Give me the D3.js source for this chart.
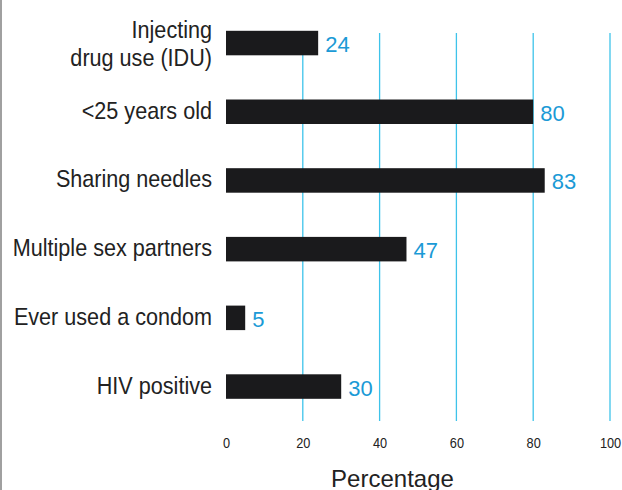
<!DOCTYPE html>
<html><head><meta charset="utf-8">
<script src="https://cdn.jsdelivr.net/npm/d3@7"></script>
<style>
html,body{margin:0;padding:0;background:#fff;}
svg{display:block;}
</style></head>
<body>
<script>
const categories = [["Injecting","drug use (IDU)"],["<25 years old"],["Sharing needles"],["Multiple sex partners"],["Ever used a condom"],["HIV positive"]];
const values = [24, 80, 83, 47, 5, 30];
const ticks = [0, 20, 40, 60, 80, 100];
const gridTicks = [20, 40, 60, 80, 100];
const axisTitle = "Percentage";

const W = 622, H = 490;
const font = "'Liberation Sans', Arial, sans-serif";
const svg = d3.select("body").append("svg").attr("width", W).attr("height", H);

// left border
svg.append("rect").attr("x",0).attr("y",0).attr("width",2).attr("height",H).attr("fill","#a0a0a0");

const x = d3.scaleLinear().domain([0,100]).range([226,610]);
const y = d3.scaleBand().domain(d3.range(categories.length)).range([8.7, 420.9]).paddingInner(0.35).paddingOuter(0.175);

// grid lines
svg.append("g").selectAll("line").data(gridTicks).join("line")
  .attr("x1", d=>x(d)).attr("x2", d=>x(d)).attr("y1", 33).attr("y2", 421)
  .attr("stroke", "#3ec3ea").attr("stroke-width", 1.3);

// bars
const bh = 24.5;
svg.append("g").selectAll("rect").data(values).join("rect")
  .attr("x", x(0)).attr("y", (d,i)=> y(i) + y.bandwidth()/2 - bh/2)
  .attr("width", d=> x(d)-x(0)).attr("height", bh).attr("fill", "#1a1a1c");

// value labels
svg.append("g").selectAll("text").data(values).join("text")
  .attr("x", d=>x(d)+7).attr("y", (d,i)=> y(i)+y.bandwidth()/2 + 9)
  .attr("font-family",font).attr("font-size", 22)
  .attr("fill","#1b9ad6").text(d=>d);

// category labels (condensed look via horizontal scale)
const cl = svg.append("g");
categories.forEach((lines,i)=>{
  const c = y(i)+y.bandwidth()/2;
  const t = cl.append("text").attr("text-anchor","end").attr("font-family",font)
    .attr("font-size",24).attr("fill","#222")
    .attr("transform", `translate(212,0) scale(0.9,1)`);
  if(lines.length===1){
    t.append("tspan").attr("x",0).attr("y",c+7).text(lines[0]);
  } else {
    t.append("tspan").attr("x",0).attr("y",c-5).text(lines[0]);
    t.append("tspan").attr("x",0).attr("y",c+23).text(lines[1]);
  }
});

// x axis tick labels
const axis = d3.axisBottom(x).tickValues(ticks).tickSize(0).tickPadding(0);
const ag = svg.append("g").attr("transform","translate(0,447.5)").call(axis);
ag.select(".domain").remove();
ag.selectAll(".tick text").attr("font-family",font).attr("font-size",15).attr("fill","#222")
  .attr("dy",0).attr("y",0).attr("transform","scale(0.85,1)");

svg.append("text").attr("x",392.5).attr("y",487).attr("text-anchor","middle")
  .attr("font-family",font).attr("font-size",24).attr("fill","#222").text(axisTitle);
</script>
</body></html>
